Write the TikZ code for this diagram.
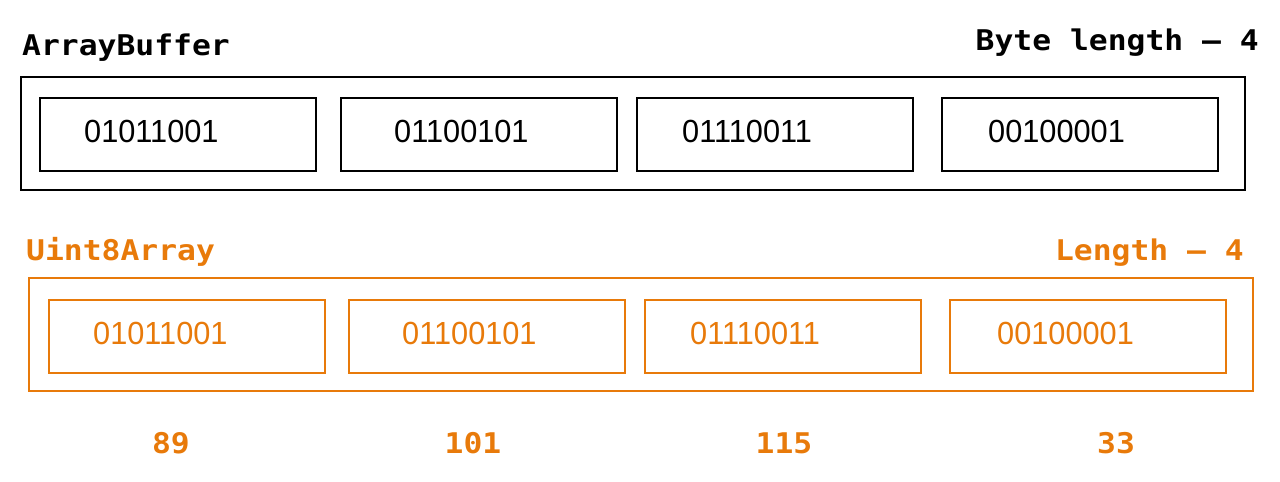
\documentclass[tikz,border=0pt]{standalone}
\usepackage{fontspec}
\setmainfont{Liberation Sans}
\newfontfamily\digfont{Liberation Sans}[FakeStretch=0.96]
\newfontfamily\labfont{DejaVu Sans Mono}[FakeStretch=1.1]
\definecolor{org}{RGB}{232,122,10}
\begin{document}
\begin{tikzpicture}[x=1pt,y=-1pt,
  outerbox/.style={draw, line width=2pt, inner sep=0, anchor=north west, minimum width=1224pt, minimum height=113pt},
  bytebox/.style={draw, line width=1.6pt, inner sep=0, anchor=north west, minimum width=276pt, minimum height=73pt},
  bits/.style={anchor=base west, inner sep=0, font=\digfont\fontsize{32}{38}\selectfont},
  lab/.style={inner sep=0, font=\labfont\bfseries\fontsize{28.5}{34}\selectfont}]
\useasboundingbox (0,0) rectangle (1280,482);
% ArrayBuffer
\node[lab, anchor=base west] (abl) at (22,55) {ArrayBuffer};
\node[lab, anchor=base east] (abr) at (1259,50) {Byte length – 4};
\node[outerbox] (ab) at (20,76) {};
\node[bytebox] (a1) at (39,97) {};
\node[bytebox] (a2) at (340,97) {};
\node[bytebox] (a3) at (636,97) {};
\node[bytebox] (a4) at (941,97) {};
\node[bits] (ta1) at (84,142) {01011001};
\node[bits] (ta2) at (394,142) {01100101};
\node[bits] (ta3) at (682,142) {01110011};
\node[bits] (ta4) at (988,142) {00100001};
% Uint8Array
\begin{scope}[org, every node/.append style={text=org}]
\node[lab, anchor=base west] (ul) at (26,260) {Uint8Array};
\node[lab, anchor=base east] (ur) at (1244,260) {Length – 4};
\node[outerbox, line width=1.6pt] (ua) at (28,277) {};
\node[bytebox] (u1) at (48,299) {};
\node[bytebox] (u2) at (348,299) {};
\node[bytebox] (u3) at (644,299) {};
\node[bytebox] (u4) at (949,299) {};
\node[bits] (tu1) at (93,344) {01011001};
\node[bits] (tu2) at (402,344) {01100101};
\node[bits] (tu3) at (690,344) {01110011};
\node[bits] (tu4) at (997,344) {00100001};
\node[lab, anchor=base] (n1) at (171,453) {89};
\node[lab, anchor=base] (n2) at (473,453) {101};
\node[lab, anchor=base] (n3) at (784,453) {115};
\node[lab, anchor=base] (n4) at (1116,453) {33};
\end{scope}
\end{tikzpicture}
\end{document}
